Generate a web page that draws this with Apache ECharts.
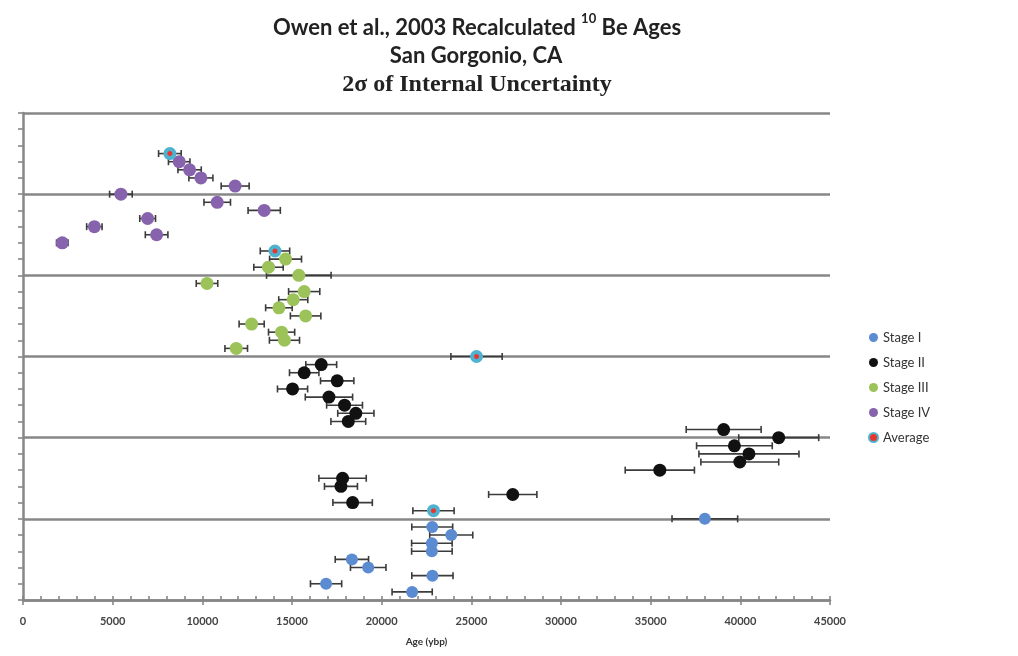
<!DOCTYPE html>
<html>
<head>
<meta charset="utf-8">
<title>San Gorgonio 10Be Ages</title>
<script src="https://cdn.jsdelivr.net/npm/echarts@6/dist/echarts.min.js"></script>
<style>
  html, body { margin: 0; padding: 0; background: #ffffff; }
  #chart { width: 1018px; height: 656px; }
</style>
</head>
<body>
<div id="chart"></div>
<script>
// Recalculated 10Be exposure ages (years before present) with 2-sigma internal uncertainty.
// Each sample sits on its own row of the vertical (unlabelled) axis.

const stageIRow = [0.5, 1, 1.5, 2, 2.5, 3, 3.5, 4, 4.5, 5];
const stageIAge = [21700, 16900, 22830, 19250, 18340, 22800, 22800, 23880, 22820, 38020];
const stageIErr = [1120, 870, 1150, 990, 930, 1130, 1130, 1200, 1140, 1830];

const stageIIRow = [6, 6.5, 7, 7.5, 8, 8.5, 9, 9.5, 10, 10.5, 11, 11.5, 12, 12.5, 13, 13.5, 14, 14.5];
const stageIIAge = [18380, 27310, 17730, 17820, 35510, 39970, 40480, 39670, 42140, 39070,
                    18140, 18560, 17930, 17060, 15030, 17520, 15680, 16630];
const stageIIErr = [1100, 1345, 920, 1320, 1930, 2170, 2790, 2110, 2230, 2090,
                    970, 1010, 1000, 1320, 840, 930, 820, 860];

const stageIIIRow = [15.5, 16, 16.5, 17, 17.5, 18, 18.5, 19, 19.5, 20, 20.5, 21];
const stageIIIAge = [11890, 14580, 14420, 12750, 15760, 14270, 15070, 15680, 10260, 15380, 13690, 14640];
const stageIIIErr = [630, 840, 730, 700, 850, 740, 810, 870, 600, 1800, 820, 890];

const stageIVRow = [22, 22.5, 23, 23.5, 24, 24.5, 25, 25.5, 26, 26.5, 27];
const stageIVAge = [2190, 7450, 3980, 6950, 13450, 10830, 5460, 11830, 9920, 9290, 8710];
const stageIVErr = [320, 630, 430, 440, 900, 740, 630, 780, 670, 650, 600];

const averageRow = [5.5, 15, 21.5, 27.5];
const averageAge = [22890, 25290, 14050, 8190];
const averageErr = [1150, 1430, 820, 630];

const xTickValues = [0, 5000, 10000, 15000, 20000, 25000, 30000, 35000, 40000, 45000];

const AXIS_GREY = '#878787';
const BAR_COLOR = '#3b3b3b';

function points(ages, rows) {
  return ages.map((a, i) => [a, rows[i]]);
}
function bars(ages, rows, errs) {
  return ages.map((a, i) => [a, rows[i], errs[i]]);
}

const errorData = [].concat(
  bars(stageIAge, stageIRow, stageIErr),
  bars(stageIIAge, stageIIRow, stageIIErr),
  bars(stageIIIAge, stageIIIRow, stageIIIErr),
  bars(stageIVAge, stageIVRow, stageIVErr),
  bars(averageAge, averageRow, averageErr)
);

// Horizontal error bar with end caps
function renderErrorBar(params, api) {
  const x = api.value(0), y = api.value(1), e = api.value(2);
  const lo = api.coord([x - e, y]);
  const hi = api.coord([x + e, y]);
  const cap = 3.5;
  const style = { stroke: BAR_COLOR, lineWidth: 1.6 };
  return {
    type: 'group',
    children: [
      { type: 'line', shape: { x1: lo[0], y1: lo[1], x2: hi[0], y2: hi[1] }, style },
      { type: 'line', shape: { x1: lo[0], y1: lo[1] - cap, x2: lo[0], y2: lo[1] + cap }, style },
      { type: 'line', shape: { x1: hi[0], y1: hi[1] - cap, x2: hi[0], y2: hi[1] + cap }, style }
    ]
  };
}

const chart = echarts.init(document.getElementById('chart'), null, { renderer: 'canvas' });

const sansBold = { fontFamily: 'Lato', fontWeight: 'bold', color: '#222' };

chart.setOption({
  backgroundColor: '#ffffff',
  animation: false,
  title: [
    {
      left: 472, top: 7, textAlign: 'center',
      text: '{m|Owen et al., 2003 Recalculated }{s|10}{m| Be Ages}',
      textStyle: {
        rich: {
          m: Object.assign({ fontSize: 22, lineHeight: 27, verticalAlign: 'bottom' }, sansBold),
          s: Object.assign({ fontSize: 13, lineHeight: 15, verticalAlign: 'top' }, sansBold)
        }
      }
    },
    {
      left: 471, top: 40, textAlign: 'center',
      text: 'San Gorgonio, CA',
      textStyle: Object.assign({ fontSize: 22 }, sansBold)
    },
    {
      left: 472, top: 68, textAlign: 'center',
      text: '2σ of Internal Uncertainty',
      textStyle: { fontFamily: 'Liberation Serif', fontWeight: 'bold', fontSize: 24, color: '#222' }
    }
  ],
  legend: {
    orient: 'vertical',
    left: 863, top: 325,
    itemWidth: 9, itemHeight: 9, itemGap: 10, itemTextGap: 4,
    icon: 'circle',
    textStyle: { fontFamily: 'Lato', fontSize: 13, color: '#333', lineHeight: 15 },
    data: [
      { name: 'Stage I' }, { name: 'Stage II' }, { name: 'Stage III' }, { name: 'Stage IV' },
      { name: 'Average', itemStyle: { borderWidth: 2 } }
    ]
  },
  grid: { left: 23, right: 188, top: 113, bottom: 56 },
  xAxis: [
    {
      type: 'value', min: 0, max: 45000, interval: 5000,
      name: 'Age (ybp)', nameLocation: 'middle', nameGap: 37,
      nameTextStyle: { fontFamily: 'Lato', fontWeight: 'bold', fontSize: 10, color: '#333' },
      axisLine: { show: true, lineStyle: { color: AXIS_GREY, width: 2.5 } },
      axisTick: { show: true, inside: false, length: 5, lineStyle: { color: AXIS_GREY, width: 1.6 } },
      axisLabel: {
        margin: 16, fontFamily: 'Lato', fontWeight: 'bold', fontSize: 11, color: '#444',
        formatter: (v) => (xTickValues.indexOf(v) >= 0 ? String(v) : '')
      },
      splitLine: { show: false }
    },
    {
      // overlay axis carrying the inward-pointing major and minor ticks
      type: 'value', min: 0, max: 45000, interval: 5000, position: 'bottom',
      axisLine: { show: false },
      axisTick: { show: true, inside: true, length: 4, lineStyle: { color: AXIS_GREY, width: 1.6 } },
      minorTick: { show: true, splitNumber: 5, length: 4, lineStyle: { color: AXIS_GREY, width: 1.6 } },
      axisLabel: { show: false },
      splitLine: { show: false }
    }
  ],
  yAxis: {
    type: 'value', min: 0, max: 30, interval: 5,
    axisLine: { show: true, lineStyle: { color: AXIS_GREY, width: 2.5 } },
    axisTick: { show: true, inside: false, length: 5, lineStyle: { color: AXIS_GREY, width: 1.6 } },
    minorTick: { show: true, splitNumber: 5, length: 5, lineStyle: { color: AXIS_GREY, width: 1.6 } },
    axisLabel: { show: false },
    splitLine: { show: true, lineStyle: { color: AXIS_GREY, width: 2.5 } }
  },
  series: [
    {
      name: 'errors', type: 'custom', renderItem: renderErrorBar,
      encode: { x: 0, y: 1 }, data: errorData, z: 2, silent: true
    },
    {
      name: 'Stage I', type: 'scatter', symbol: 'circle', symbolSize: 12, z: 3,
      itemStyle: { color: '#5b8bd0', opacity: 1 }, data: points(stageIAge, stageIRow)
    },
    {
      name: 'Stage II', type: 'scatter', symbol: 'circle', symbolSize: 13, z: 3,
      itemStyle: { color: '#111111', opacity: 1 }, data: points(stageIIAge, stageIIRow)
    },
    {
      name: 'Stage III', type: 'scatter', symbol: 'circle', symbolSize: 13, z: 3,
      itemStyle: { color: '#9cc25a', opacity: 1 }, data: points(stageIIIAge, stageIIIRow)
    },
    {
      name: 'Stage IV', type: 'scatter', symbol: 'circle', symbolSize: 13, z: 3,
      itemStyle: { color: '#8763ad', opacity: 1 }, data: points(stageIVAge, stageIVRow)
    },
    {
      name: 'Average', type: 'scatter', symbol: 'circle', symbolSize: 9, z: 4,
      itemStyle: { color: '#e8362f', borderColor: '#4fb2cf', borderWidth: 4, opacity: 1 },
      data: points(averageAge, averageRow)
    }
  ]
});
</script>
</body>
</html>
